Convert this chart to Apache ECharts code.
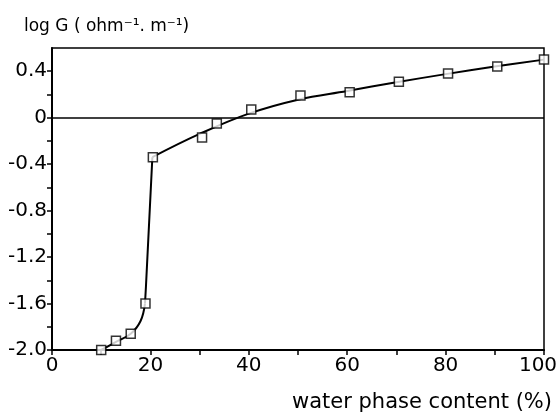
<!DOCTYPE html>
<html>
<head>
<meta charset="utf-8">
<script src="https://cdn.jsdelivr.net/npm/echarts@6/dist/echarts.min.js"></script>
<style>
html, body { margin: 0; padding: 0; background: #fff; }
#chart { width: 559px; height: 413px; }
</style>
</head>
<body>
<div id="chart"></div>
<script>
// measured points (squares)
var waterContent = [10, 13, 16, 19, 20.5, 30.5, 33.5, 40.5, 50.5, 60.5, 70.5, 80.5, 90.5, 100];
var logG = [-2.0, -1.92, -1.86, -1.6, -0.34, -0.17, -0.05, 0.07, 0.19, 0.22, 0.31, 0.38, 0.44, 0.5];
// fitted curve, in three pieces
var lowX = [10, 13, 16, 18, 18.9];
var lowY = [-2.0, -1.93, -1.86, -1.75, -1.6];
var jumpX = [18.9, 19.1, 20.4];
var jumpY = [-1.6, -1.45, -0.34];
var highX = [20.4, 30, 40, 50, 60, 70, 80, 90, 100];
var highY = [-0.34, -0.14, 0.035, 0.155, 0.23, 0.305, 0.375, 0.44, 0.5];

var font = 'DejaVu Sans';
var dom = document.getElementById('chart');
var myChart = echarts.init(dom);

function pairs(xs, ys) {
    return xs.map(function (x, i) { return [x, ys[i]]; });
}
function curve(xs, ys, smooth) {
    return {
        type: 'line', data: pairs(xs, ys), smooth: smooth,
        showSymbol: false, lineStyle: { color: '#000', width: 2 }, z: 2
    };
}

var option = {
    animation: false,
    textStyle: { fontFamily: font, color: '#000' },
    grid: {
        left: 52, right: 15, top: 48, bottom: 63,
        outerBoundsMode: 'none', containLabel: false,
        show: true, borderColor: '#000', borderWidth: 1.5
    },
    xAxis: {
        type: 'value', min: 0, max: 100, interval: 10,
        name: 'water phase content (%)',
        nameLocation: 'end', nameGap: 0,
        nameTextStyle: {
            fontFamily: font, fontSize: 21, color: '#000',
            align: 'right', verticalAlign: 'top', padding: [42, -8, 0, 0]
        },
        axisLine: { onZero: false, lineStyle: { color: '#000', width: 2 } },
        axisTick: { lineStyle: { color: '#000', width: 1.5 }, length: 5 },
        axisLabel: {
            fontFamily: font, fontSize: 20, color: '#000', margin: 6,
            formatter: function (v) {
                if (v === 100) return '{m|100}';
                return v % 20 === 0 ? String(v) : '';
            },
            rich: { m: { fontFamily: font, fontSize: 20, color: '#000', padding: [0, 12, 0, 0] } }
        },
        splitLine: { show: false }
    },
    yAxis: {
        type: 'value', min: -2.0, max: 0.6, interval: 0.2,
        name: 'log G ( ohm\u207B\u00B9. m\u207B\u00B9)',
        nameLocation: 'end', nameGap: 13,
        nameTextStyle: {
            fontFamily: font, fontSize: 17, color: '#000',
            align: 'left', padding: [0, 0, 0, -28]
        },
        axisLine: { show: true, onZero: false, lineStyle: { color: '#000', width: 2 } },
        axisTick: { show: true, lineStyle: { color: '#000', width: 1.5 }, length: 5 },
        axisLabel: {
            fontFamily: font, fontSize: 20, color: '#000', margin: 5, showMaxLabel: false,
            formatter: function (v) {
                var k = Math.round(v * 10);
                if (k % 4 !== 0) return '';
                if (k === 0) return '0';
                return v.toFixed(1);
            }
        },
        splitLine: { show: false }
    },
    series: [
        curve(lowX, lowY, 0.4),
        curve(jumpX, jumpY, false),
        curve(highX, highY, 0.4),
        {
            type: 'line', data: [], silent: true,
            markLine: {
                silent: true, symbol: 'none', label: { show: false },
                lineStyle: { color: '#000', width: 1.5, type: 'solid' },
                data: [{ yAxis: 0 }]
            }
        },
        {
            type: 'scatter',
            data: pairs(waterContent, logG),
            symbol: 'rect', symbolSize: 9,
            itemStyle: { color: '#fff', borderColor: '#000', borderWidth: 1.5 },
            z: 3
        }
    ]
};
myChart.setOption(option);
</script>
</body>
</html>
